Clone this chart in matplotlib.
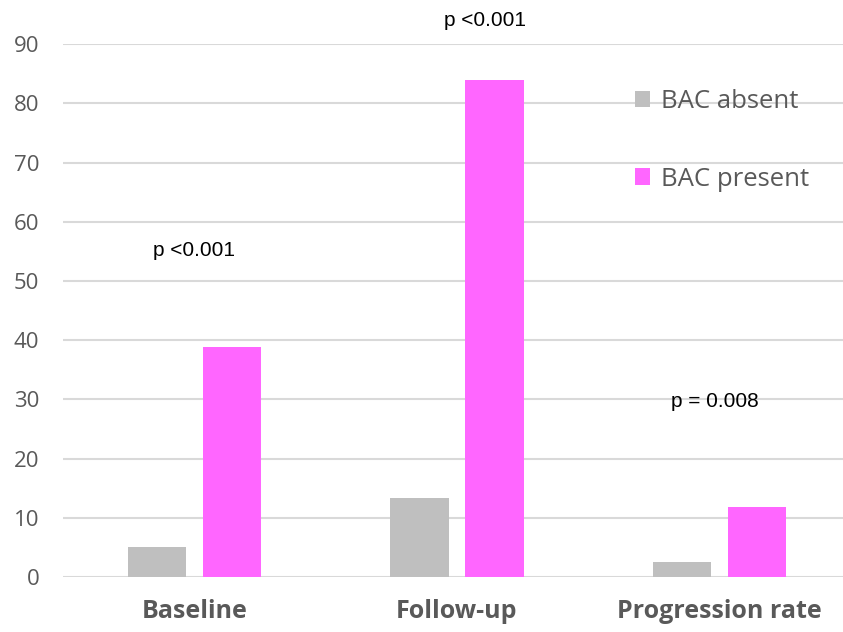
import numpy as np
import matplotlib.pyplot as plt

plt.rcParams['font.family'] = ['Open Sans', 'DejaVu Sans']

categories = ['Baseline', 'Follow-up', 'Progression rate']
bac_absent = [5.0, 13.3, 2.5]
bac_present = [38.9, 84.0, 11.8]
p_labels = ['p <0.001', 'p <0.001', 'p = 0.008']
p_heights = [55.2, 94.0, 29.6]
p_shift = [0.0, 0.105, -0.02]

grey = '#bfbfbf'
pink = '#ff66ff'
text_col = '#595959'

fig = plt.figure(figsize=(8.43, 6.32), dpi=100)
ax = fig.add_axes([63 / 843, 0.087, 788 / 843, 0.843])

x = np.arange(len(categories))
w = 0.223
off = 0.1427
ax.bar(x - off, bac_absent, w, color=grey, label='BAC absent', zorder=3)
ax.bar(x + off, bac_present, w, color=pink, label='BAC present', zorder=3)

ax.set_xlim(-0.5, 2.5)
ax.set_ylim(0, 90)
ax.set_yticks(range(0, 91, 10))
ax.yaxis.grid(True, color='#d9d9d9', linewidth=1.5, zorder=0)
ax.set_axisbelow(True)
for s in ax.spines.values():
    s.set_visible(False)
ax.tick_params(axis='both', length=0, colors=text_col)
ax.tick_params(axis='y', labelsize=16, pad=17)
ax.set_xticks(x)
ax.set_xticklabels(categories, fontsize=18, fontweight='bold', color=text_col)
ax.tick_params(axis='x', pad=16)

# p-values
for i in range(len(categories)):
    ax.text(x[i] + p_shift[i], p_heights[i], p_labels[i],
            ha='center', va='center', fontsize=15,
            family='Liberation Sans', color='black', clip_on=False)

ax.legend(loc='upper left', bbox_to_anchor=(622 / 843, 1 - 76 / 632),
          bbox_transform=fig.transFigure, frameon=False, fontsize=18.5,
          handlelength=0.6, handleheight=0.6, handletextpad=0.4,
          labelspacing=2.05, borderpad=0, labelcolor=text_col)

fig.savefig('out.png', dpi=100)
